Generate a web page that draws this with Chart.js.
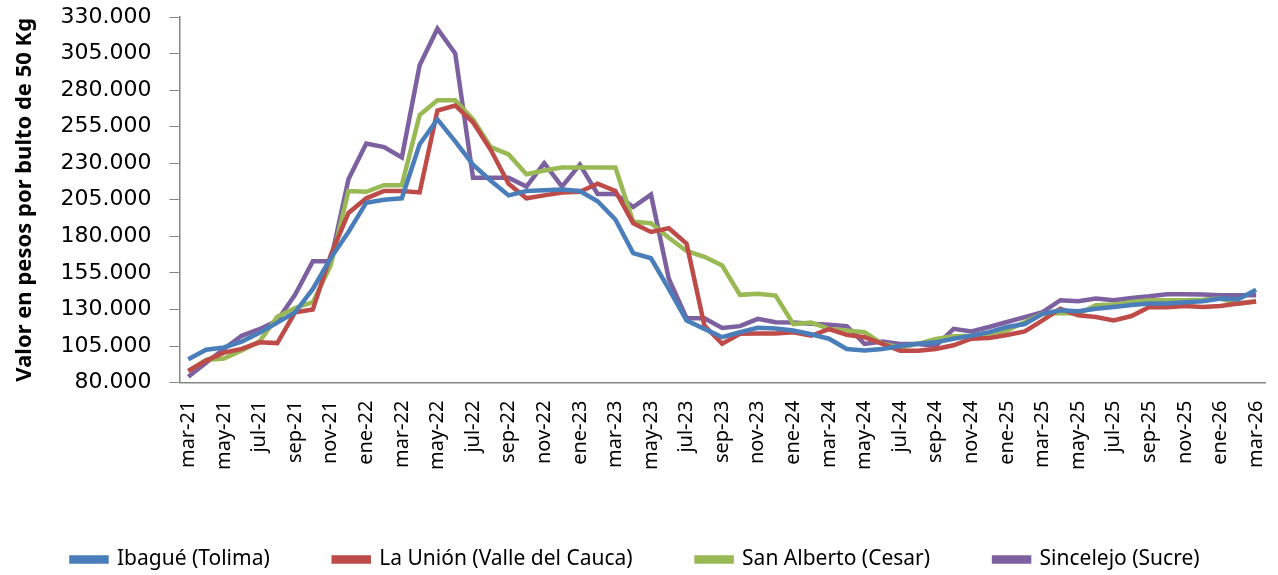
<!DOCTYPE html>
<html>
<head>
<meta charset="utf-8">
<script src="https://cdn.jsdelivr.net/npm/chart.js@4"></script>
<style>
  body { margin: 0; background: #fff; }
</style>
</head>
<body>
<canvas id="priceChart" width="1278" height="575"></canvas>
<script>
// meses mar-21 .. mar-26
const meses = ["ene", "feb", "mar", "abr", "may", "jun", "jul", "ago", "sep", "oct", "nov", "dic"];
const labels = [];
for (let k = 2; k <= 62; k++) {
    labels.push(meses[k % 12] + "-" + (21 + Math.floor(k / 12)));
}

// precios en miles de pesos por bulto de 50 Kg
const ibague = [96, 102.5, 104, 108, 114, 121, 128, 144, 165, 183, 203, 205, 206, 243, 260, 245,
    229, 218, 208, 211, 211.5, 212, 211, 204, 191.5, 168.5, 165, 144, 122.5, 116.7, 111, 114.4,
    117.4, 117, 115.6, 113, 110, 103, 102, 103, 105, 106.5, 107.5, 110, 112, 114.5, 118, 120,
    127, 129.5, 128.7, 130.5, 131.7, 133, 134, 134, 135, 135.6, 137.4, 137, 143.5];
const laUnion = [88, 95, 100.5, 103, 107.5, 107, 128, 130, 167, 196, 206, 211, 211, 210, 266, 269.5,
    258, 239, 216, 206, 208, 210, 210.5, 216, 211, 189, 183, 185.5, 175, 119, 106.5, 113.3,
    113.5, 113.5, 114.4, 112, 116.5, 112.6, 111, 106.5, 101.8, 101.8, 103, 105.5, 110, 110.5, 112.5, 115,
    122.5, 130.5, 126, 124.8, 122.5, 125.5, 131.7, 131.5, 132.4, 131.7, 132.4, 134, 135.5];
const sanAlberto = [88, 95.5, 96.5, 102, 108, 125, 131, 135, 160, 211, 210.5, 215, 215, 263, 273, 273,
    260, 241, 236, 222.5, 225, 227, 227, 227, 227, 190, 189, 179, 170, 166, 160, 140,
    140.8, 139.5, 120, 121, 116.7, 115.6, 114.4, 106.5, 104, 106.5, 109.8, 111.7, 112, 113.3, 115.6, 121.4,
    127, 127.5, 127, 132.8, 133.3, 135.1, 136.3, 136.3, 136.3, 136.7, 137.4, 134, 135.6];
const sincelejo = [84, 93.5, 103, 112, 116.5, 122.5, 140, 163, 163, 219, 243.5, 241, 234, 297, 322, 305,
    220, 220, 220, 214, 230, 214, 229, 209, 209, 200, 208.5, 151, 124, 124, 117.4, 118.6,
    123.6, 121.3, 121, 120.2, 119.5, 118.6, 106.4, 108, 106.4, 106.4, 105, 116.7, 115, 118, 121.4, 124.8,
    128.2, 136.3, 135.6, 137.4, 136.3, 137.9, 139, 140.4, 140.4, 140.2, 139.7, 139.7, 139.7];

const fuente = "'Noto Sans', 'Open Sans', sans-serif";
const gris = "#868686";

function serie(nombre, valores, color) {
    return {
        label: nombre,
        data: valores.map(v => v * 1000),
        borderColor: color,
        backgroundColor: color,
        borderWidth: 4.5,
        pointRadius: 0,
        tension: 0,
        fill: false
    };
}

function formatoMiles(v) {
    return String(Math.round(v)).replace(/\B(?=(\d{3})+(?!\d))/g, ".");
}

const ctx = document.getElementById("priceChart").getContext("2d");
new Chart(ctx, {
    type: "line",
    data: {
        labels: labels,
        datasets: [
            serie("Ibagué (Tolima)", ibague, "#4A7EBB"),
            serie("La Unión (Valle del Cauca)", laUnion, "#BE4B48"),
            serie("San Alberto (Cesar)", sanAlberto, "#98B954"),
            serie("Sincelejo (Sucre)", sincelejo, "#7D60A0")
        ]
    },
    options: {
        responsive: false,
        animation: false,
        layout: { padding: { left: 6, right: 13, top: 0, bottom: -5 } },
        plugins: {
            legend: {
                position: "bottom",
                labels: {
                    boxWidth: 35,
                    boxHeight: 4,
                    padding: 64,
                    color: "#000",
                    font: { family: fuente, size: 21 }
                }
            },
            tooltip: { enabled: false }
        },
        scales: {
            x: {
                offset: true,
                grid: { display: false },
                border: { color: gris, width: 1.5 },
                afterFit: s => {
                    s.height += 5;
                    s.paddingLeft = 0;
                    s.paddingRight = 0;
                },
                ticks: {
                    autoSkip: false,
                    maxRotation: 90,
                    minRotation: 90,
                    padding: 10,
                    color: "#000",
                    font: { family: fuente, size: 20 },
                    callback: function (value, index) {
                        return index % 2 === 0 ? labels[index] : "";
                    }
                }
            },
            y: {
                min: 80000,
                max: 330000,
                border: { color: gris, width: 1.5 },
                grid: { drawOnChartArea: false, drawTicks: true, tickLength: 10, color: gris },
                afterFit: s => {
                    s.paddingTop = 17;
                    s.paddingBottom = 0;
                },
                ticks: {
                    stepSize: 25000,
                    padding: 18,
                    color: "#000",
                    font: { family: "'DejaVu Sans', sans-serif", size: 22 },
                    callback: v => formatoMiles(v)
                },
                title: {
                    display: true,
                    text: "Valor en pesos por bulto de 50 Kg",
                    color: "#000",
                    font: { family: fuente, size: 22, weight: "bold" },
                    padding: { top: 6, bottom: 4 }
                }
            }
        }
    }
});
</script>
</body>
</html>
